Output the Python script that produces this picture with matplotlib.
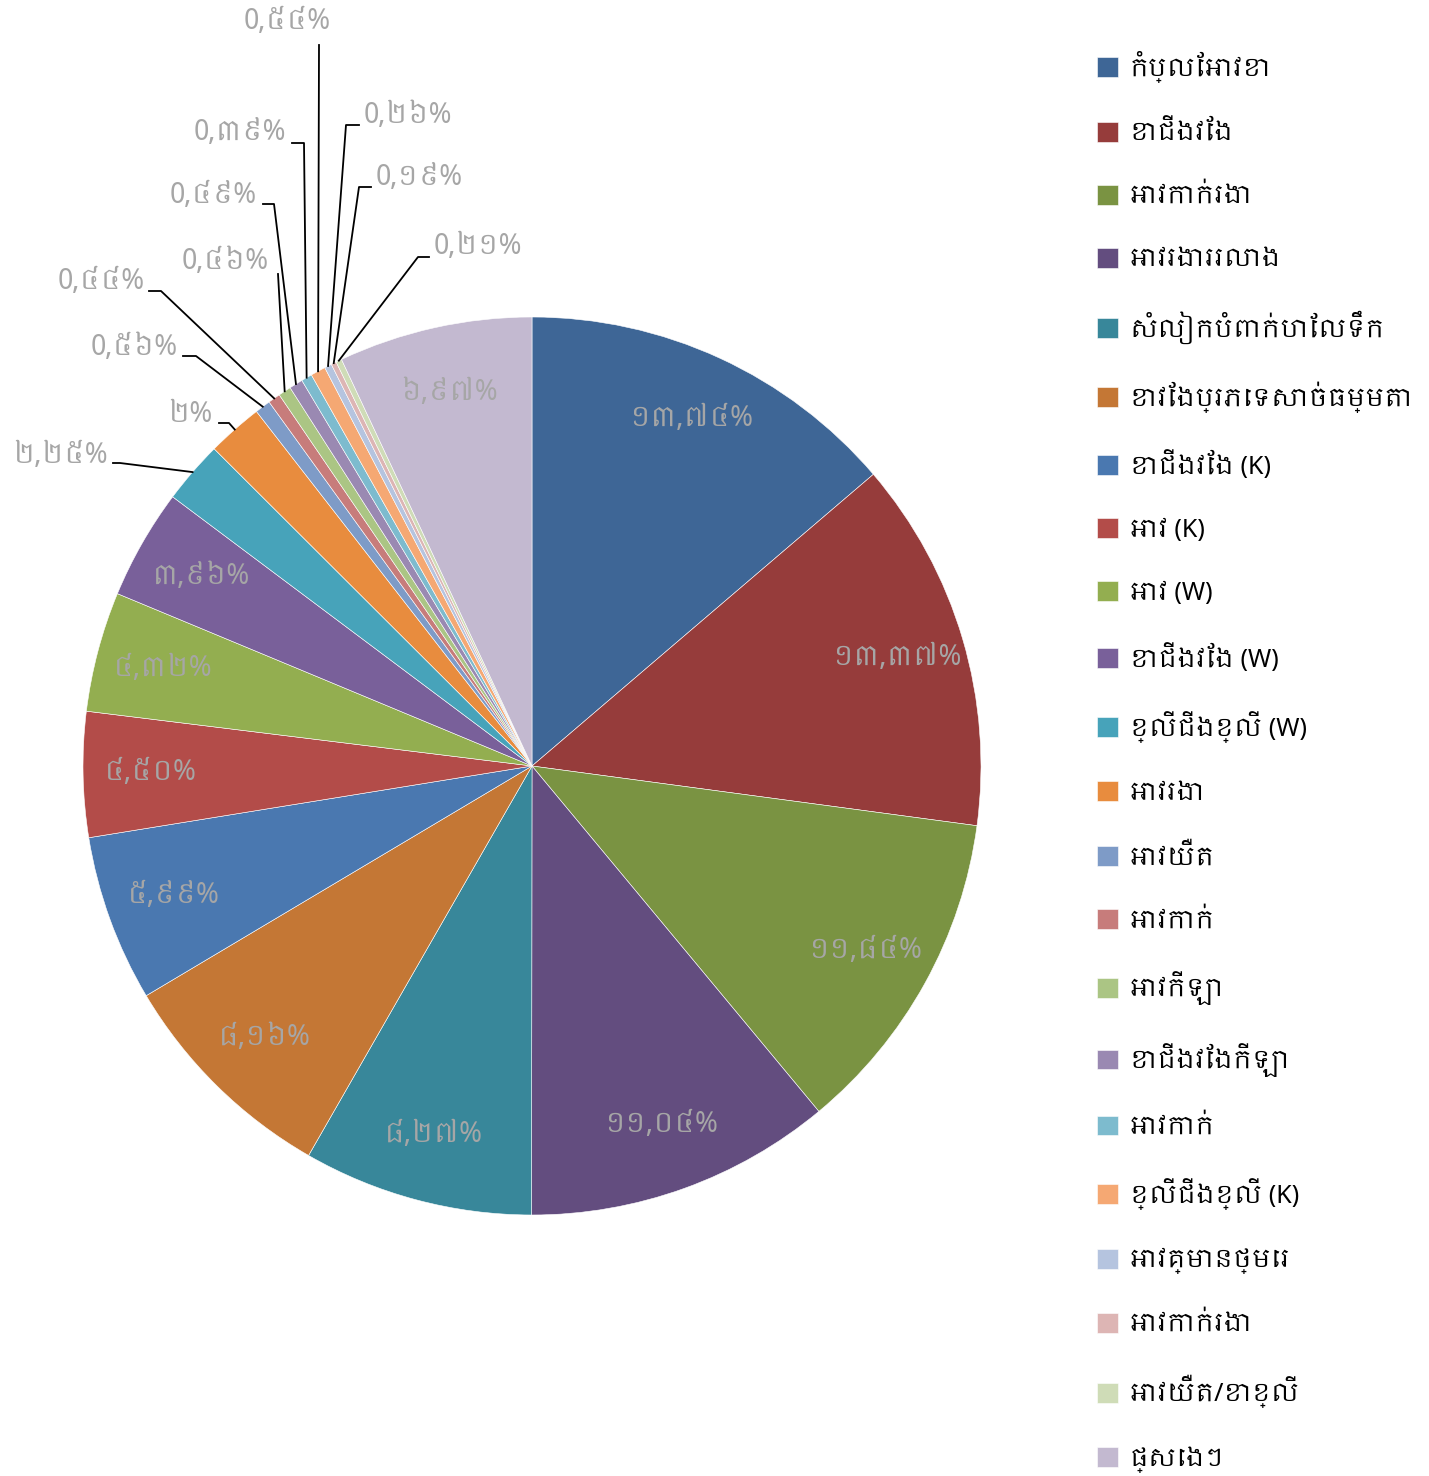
import numpy as np
import matplotlib
matplotlib.use("Agg")
import matplotlib.pyplot as plt
from matplotlib import font_manager

# ------------------------------------------- DATA ------------------------------------------- #

categories = [
    "កំប្លែអាវខោ", "ខោជើងវែង", "អាវកាក់រងា", "អាវរងាររលោង",
    "សំលៀកបំពាក់ហែលទឹក", "ខោវែងប្រភេទសាច់ធម្មតា", "ខោជើងវែង (K)",
    "អាវ (K)", "អាវ (W)", "ខោជើងវែង (W)", "ខ្លីជើងខ្លី (W)", "អាវរងា",
    "អាវយឺត", "អាវកាក់", "អាវកីឡា", "ខោជើងវែងកីឡា", "អាវកាក់",
    "ខ្លីជើងខ្លី (K)", "អាវគ្មានថ្មេរ", "អាវកាក់រងា", "អាវយឺត/ខោខ្លី", "ផ្សេងៗ",
]

shares = [
    13.74, 13.37, 11.84, 11.04, 8.27, 8.16, 5.99, 4.50, 4.32, 3.96, 2.25,
    2.00, 0.56, 0.44, 0.46, 0.49, 0.39, 0.54, 0.26, 0.19, 0.21, 6.97,
]

colors = [
    "#3E6696", "#963C3B", "#7A9342", "#634D7F", "#38879A", "#C47735",
    "#4A78B0", "#B34C49", "#93AE50", "#79609A", "#47A3BA", "#E88C3E",
    "#7E9BC7", "#C77C7B", "#ABC584", "#9A89B2", "#7DBBCE", "#F5A873",
    "#B5C4DF", "#DDB5B4", "#CFDCB7", "#C3B9D0",
]

# ------------------------------------------ LAYOUT ------------------------------------------ #

W, H = 1429, 1476
CX, CY, R = 532, 766, 449  # pie centre and radius in pixels

# outside labels for the small slices: text anchor, horizontal align, leader elbow (pixels)
outside_labels = {
    10: ((108, 456), "right", [(113, 463), (120, 463)]),
    11: ((212, 415), "right", [(219, 423), (229, 423)]),
    12: ((178, 348), "right", [(183, 356), (196, 356)]),
    13: ((145, 282), "right", [(149, 291), (161, 291)]),
    14: ((225, 262), "center", [(278, 274)]),
    15: ((257, 196), "right", [(263, 204), (274, 204)]),
    16: ((286, 133), "right", [(292, 143), (304, 143)]),
    17: ((287, 22), "center", [(319, 45)]),
    18: ((364, 116), "left", [(359, 125), (346, 125)]),
    19: ((376, 178), "left", [(371, 187), (359, 187)]),
    20: ((434, 247), "left", [(429, 257), (418, 257)]),
}

KHMER_DIGITS = str.maketrans("0123456789", "០១២៣៤៥៦៧៨៩")


def pct_label(v):
    txt = f"{v:.2f}".rstrip("0").rstrip(".") if v == int(v) else f"{v:.2f}"
    head, _, tail = txt.partition(".")
    head = head if head == "0" else head.translate(KHMER_DIGITS)
    tail = tail.translate(KHMER_DIGITS)
    return f"{head},{tail}%" if tail else f"{head}%"


def px(x, y):
    return (x - CX) / R, (CY - y) / R


# pick up a Khmer font if one is installed
khmer = sorted({f.name for f in font_manager.fontManager.ttflist if "Khmer" in f.name})
plt.rcParams["font.family"] = khmer + ["DejaVu Sans"]

fig = plt.figure(figsize=(W / 100, H / 100), dpi=100)
ax = fig.add_axes([0, 0, 1, 1])

wedges, _ = ax.pie(
    shares,
    colors=colors,
    startangle=90,
    counterclock=False,
    radius=1.0,
    wedgeprops=dict(edgecolor="white", linewidth=0.4),
)
ax.set_xlim(-CX / R, (W - CX) / R)
ax.set_ylim(-(H - CY) / R, CY / R)
ax.set_aspect("equal")
ax.axis("off")

label_color = "#A6A6A6"
for i, w in enumerate(wedges):
    mid = np.deg2rad((w.theta1 + w.theta2) / 2)
    if i in outside_labels:
        (tx, ty), ha, elbow = outside_labels[i]
        pts = [px(*p) for p in elbow] + [(np.cos(mid), np.sin(mid))]
        ax.plot([p[0] for p in pts], [p[1] for p in pts], color="black", lw=1.3)
        x, y = px(tx, ty)
        ax.text(x, y, pct_label(shares[i]), ha=ha, va="center",
                fontsize=20, color=label_color)
    else:
        ax.text(0.85 * np.cos(mid), 0.85 * np.sin(mid), pct_label(shares[i]),
                ha="center", va="center", fontsize=20, color=label_color)

leg = ax.legend(
    wedges, categories,
    loc="upper left", bbox_to_anchor=(1097 / W, 1 - 51 / H),
    frameon=False, fontsize=18,
    handlelength=0.85, handleheight=0.85, handletextpad=0.45,
    labelspacing=1.52, borderaxespad=0, borderpad=0,
)

fig.savefig("out.png", dpi=100)
